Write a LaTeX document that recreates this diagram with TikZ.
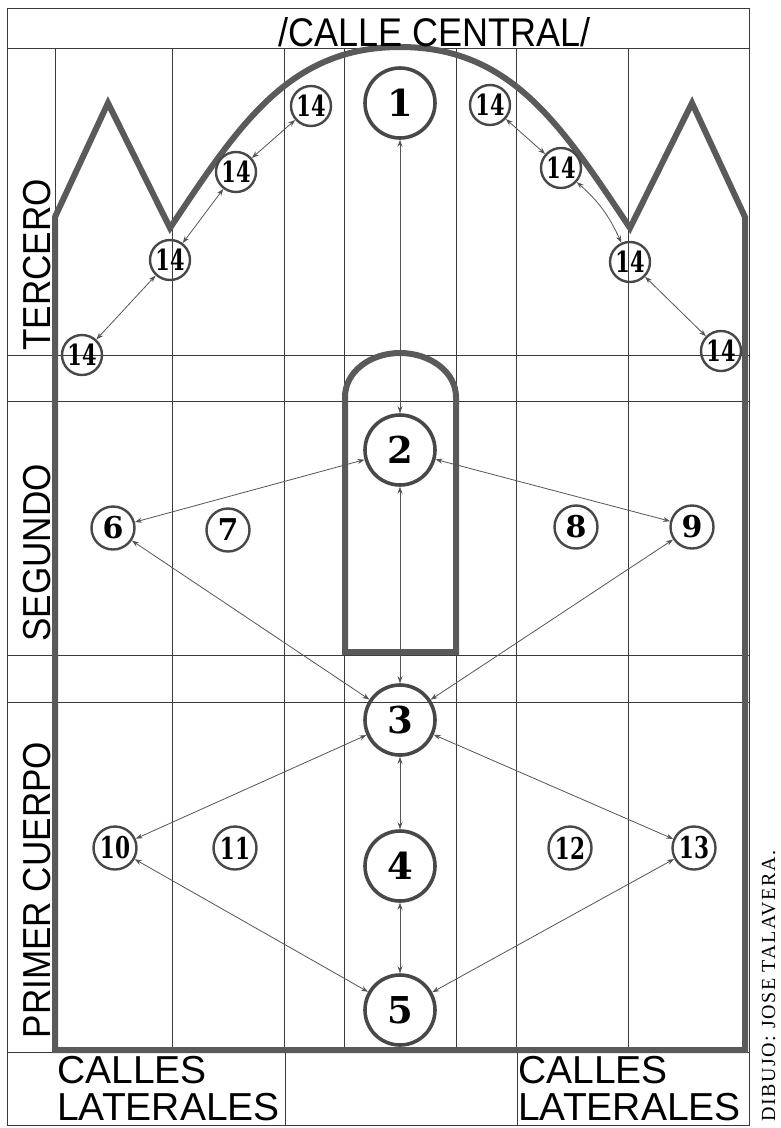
\documentclass[tikz,border=0pt]{standalone}
\usepackage{fontspec}
\usepackage{graphicx}
\setmainfont{Liberation Sans}
\newfontfamily\numfont{DejaVu Serif}
\newfontfamily\signfont[LetterSpace=8]{Liberation Serif}
\usetikzlibrary{arrows.meta}
\definecolor{wallgray}{HTML}{5A5A5A}
\definecolor{gridgray}{HTML}{3A3A3A}
\definecolor{ringgray}{HTML}{484848}
\definecolor{linkgray}{HTML}{555555}
\newcommand{\tightnum}[1]{\scalebox{0.72}[1]{#1}}
\newcommand{\tallcaps}[1]{\scalebox{0.9}[1]{#1}}
\tikzset{
    % Ruling of the retable - thin dark lines
    grid line/.style={gridgray, line width=0.9pt},
    % Outline of the retable and the niche - thick gray
    wall line/.style={wallgray, line width=6pt, line join=miter},
    % Scenes of the central street - large rings
    main scene/.style={circle, draw=ringgray, line width=3.6pt, minimum size=70pt, inner sep=0pt,
        font=\numfont\bfseries\fontsize{37}{37}\selectfont},
    % Scenes of the side streets - small rings
    side scene/.style={circle, draw=ringgray, line width=2.4pt, minimum size=43pt, inner sep=0pt,
        font=\numfont\bfseries\fontsize{30}{30}\selectfont},
    % Scenes along the crowning arch
    arch scene/.style={side scene, minimum size=40pt, font=\numfont\bfseries\fontsize{29}{29}\selectfont},
    % Reading order - double headed gray lines
    link/.style={linkgray, line width=0.8pt, {Stealth[length=7pt,width=5pt]}-{Stealth[length=7pt,width=5pt]}},
    % Texts
    title label/.style={inner sep=0pt, font=\fontsize{40}{40}\selectfont},
    band label/.style={inner sep=0pt, font=\fontsize{39}{39}\selectfont},
    street label/.style={inner sep=0pt, font=\fontsize{39}{39}\selectfont},
    sign label/.style={inner sep=0pt, font=\signfont\fontsize{20}{20}\selectfont}
}

\begin{document}
\begin{tikzpicture}[x=1pt, y=-1pt]
    % --- Canvas ---
    \fill[white] (0,0) rectangle (781,1128);
    \useasboundingbox (0,0) rectangle (781,1128);

    % --- Ruling: bodies and streets ---
    \draw[grid line] (7,8) rectangle (749,1125);
    \draw[grid line] (7,48) -- (749,48);
    \foreach \yy in {355,401,655,702}
        \draw[grid line] (7,\yy) -- (749,\yy);
    \draw[grid line] (7,1052) -- (749,1052);
    \foreach \xx in {55,172,284,344,456,516,628}
        \draw[grid line] (\xx,48) -- (\xx,1052);
    \draw[grid line] (285,1052) -- (285,1125);
    \draw[grid line] (517,1052) -- (517,1125);

    % --- Outline of the retable ---
    \coordinate (footL) at (55,1050);
    \coordinate (wallL) at (55,217);
    \coordinate (peakL) at (108,103);
    \coordinate (valleyL) at (170,228);
    \coordinate (crown) at (400,47);
    \coordinate (valleyR) at (630,228);
    \coordinate (peakR) at (692,103);
    \coordinate (wallR) at (745,217);
    \coordinate (footR) at (745,1050);
    \draw[wall line] (footL) -- (wallL) -- (peakL) -- (valleyL)
        .. controls (240,123) and (290,47) .. (crown)
        .. controls (510,47) and (560,123) .. (valleyR)
        -- (peakR) -- (wallR) -- (footR) -- cycle;

    % Central niche
    \draw[wall line] (345,652) -- (345,397) .. controls (345,372) and (370,353) .. (400,353)
        .. controls (430,353) and (456,372) .. (456,397) -- (456,652) -- cycle;

    % --- Scenes ---
    \node[main scene] (n1) at (400,103) {1};
    \node[main scene] (n2) at (400,450) {2};
    \node[main scene] (n3) at (400,720) {3};
    \node[main scene] (n4) at (400,866) {4};
    \node[main scene] (n5) at (400,1010) {5};

    \node[side scene] (n6) at (113,528) {6};
    \node[side scene] (n7) at (228,530) {7};
    \node[side scene] (n8) at (576,527) {8};
    \node[side scene] (n9) at (692,527) {9};
    \node[side scene] (n10) at (115,848) {\tightnum{10}};
    \node[side scene] (n11) at (235,848) {\tightnum{11}};
    \node[side scene] (n12) at (570,848) {\tightnum{12}};
    \node[side scene] (n13) at (694,848) {\tightnum{13}};

    % Arch scenes, left to right
    \node[arch scene] (a1) at (82,355) {\tightnum{14}};
    \node[arch scene] (a2) at (170,260) {\tightnum{14}};
    \node[arch scene] (a3) at (236,172) {\tightnum{14}};
    \node[arch scene] (a4) at (311,106) {\tightnum{14}};
    \node[arch scene] (a5) at (490,105) {\tightnum{14}};
    \node[arch scene] (a6) at (561,168) {\tightnum{14}};
    \node[arch scene] (a7) at (630,262) {\tightnum{14}};
    \node[arch scene] (a8) at (721,351) {\tightnum{14}};

    % --- Reading order ---
    \draw[link] (n1) -- (n2);
    \draw[link] (n2) -- (n3);
    \draw[link] (n3) -- (n4);
    \draw[link] (n4) -- (n5);
    \draw[link] (n2) -- (n6);
    \draw[link] (n2) -- (n9);
    \draw[link] (n6) -- (n3);
    \draw[link] (n9) -- (n3);
    \draw[link] (n3) -- (n10);
    \draw[link] (n3) -- (n13);
    \draw[link] (n10) -- (n5);
    \draw[link] (n13) -- (n5);
    \draw[link] (a1) -- (a2);
    \draw[link] (a2) -- (a3);
    \draw[link] (a3) -- (a4);
    \draw[link] (a5) -- (a6);
    \draw[link] (a6) to[bend left=12] (a7);
    \draw[link] (a7) -- (a8);

    % --- Labels ---
    \node[title label, anchor=base] (title) at (435,46) {\tallcaps{/CALLE CENTRAL/}};
    \node[band label, rotate=90, anchor=base] (tercero) at (50,265) {\tallcaps{TERCERO}};
    \node[band label, rotate=90, anchor=base] (segundo) at (50,553) {\tallcaps{SEGUNDO}};
    \node[band label, rotate=90, anchor=base] (primer) at (50,890) {\tallcaps{PRIMER CUERPO}};
    \node[street label, anchor=base west] (callesL) at (57,1083) {CALLES};
    \node[street label, anchor=base west] (lateralesL) at (57,1120) {LATERALES};
    \node[street label, anchor=base west] (callesR) at (518,1083) {CALLES};
    \node[street label, anchor=base west] (lateralesR) at (518,1120) {LATERALES};
    \node[sign label, rotate=90, anchor=base west] (dibujo) at (775,1122) {DIBUJO: JOSE TALAVERA.};
\end{tikzpicture}
\end{document}
